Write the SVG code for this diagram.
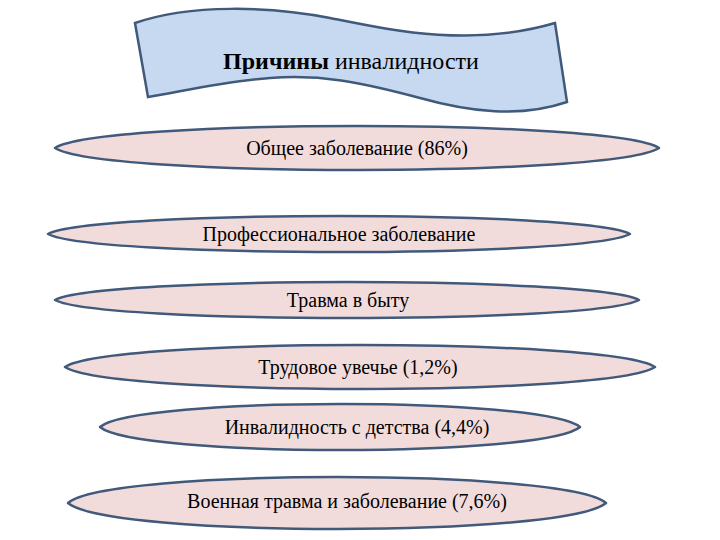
<svg xmlns="http://www.w3.org/2000/svg" width="720" height="540" viewBox="0 0 720 540">
<style>
.oval{fill:#f2dcdb;stroke:#41597a;stroke-width:2.5;stroke-linejoin:round}
.banner{fill:#c6d9f1;stroke:#41597a;stroke-width:2.5;stroke-linejoin:miter}
.t{font-family:'Liberation Serif','Times New Roman',serif;fill:#000;text-anchor:middle}
.lbl{font-size:20px}
.title{font-size:24px}
</style>
<rect width="720" height="540" fill="#ffffff"/>
<g id="title">
<path class="banner" d="M135,23 C190,4 270,6 330,18 C390,30 470,48 555,23 L567,102 C520,118 470,112 420,98 C360,82 320,74 270,78 C220,82 180,92 148,97 Z"/>
<text class="t title" x="351" y="69"><tspan font-weight="bold">Причины</tspan> инвалидности</text>
</g>
<g id="connectors"></g>
<g id="n1">
<path class="oval" d="M55,148 C100,118.7 614,118.7 659,148 C614,177.3 100,177.3 55,148Z"/>
<text class="t lbl" x="357" y="155">Общее заболевание (86%)</text>
</g>
<g id="n2">
<path class="oval" d="M48,234 C92,210 586,210 630,234 C586,258 92,258 48,234Z"/>
<text class="t lbl" x="339" y="241">Профессиональное заболевание</text>
</g>
<g id="n3">
<path class="oval" d="M55,300 C99,276 595,276 639,300 C595,324 99,324 55,300Z"/>
<text class="t lbl" x="348" y="307">Травма в быту</text>
</g>
<g id="n4">
<path class="oval" d="M65,367 C109,337.7 611,337.7 655,367 C611,396.3 109,396.3 65,367Z"/>
<text class="t lbl" x="358" y="374">Трудовое увечье (1,2%)</text>
</g>
<g id="n5">
<path class="oval" d="M100,427 C136,396.4 544,396.4 580,427 C544,457.6 136,457.6 100,427Z"/>
<text class="t lbl" x="357" y="434">Инвалидность с детства (4,4%)</text>
</g>
<g id="n6">
<path class="oval" d="M68,503 C108,468.4 566,468.4 606,503 C566,537.6 108,537.6 68,503Z"/>
<text class="t lbl" x="347" y="508">Военная травма и заболевание (7,6%)</text>
</g>
</svg>
